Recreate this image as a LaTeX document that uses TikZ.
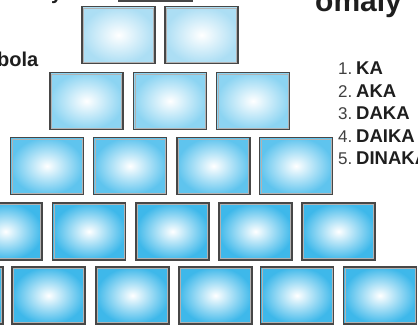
\documentclass[tikz,border=0pt]{standalone}
\usepackage{fontspec}
\setmainfont{Liberation Sans}
\definecolor{bluea}{RGB}{172,222,244}
\definecolor{blueb}{RGB}{140,212,242}
\definecolor{bluec}{RGB}{95,196,238}
\definecolor{blued}{RGB}{62,184,234}
\definecolor{ink}{RGB}{30,30,30}
\begin{document}
\begin{tikzpicture}[x=1pt,y=-1pt,
  brick/.style={rectangle, draw=black!72, line width=1.8pt, inner sep=0pt, outer sep=0pt,
    minimum width=73pt, minimum height=57pt,
    shading=radial, inner color=white, outer color=#1,
    path picture={\draw[black!30, line width=0.7pt]
      ([shift={(1.6pt,-1.6pt)}]path picture bounding box.north west) rectangle
      ([shift={(-1.6pt,1.6pt)}]path picture bounding box.south east);}},
  heading/.style={inner sep=0pt, anchor=base west, text=ink, font=\bfseries},
  num/.style={inner sep=0pt, anchor=base west, text=ink!85, font=\fontsize{17}{17}\selectfont},
  word/.style={inner sep=0pt, anchor=base west, text=ink, font=\bfseries\fontsize{18.5}{18.5}\selectfont}]
\useasboundingbox (0,0) rectangle (418,326);
\clip (0,0) rectangle (418,326);
\fill[white] (0,0) rectangle (418,326);
% row 0
\node[brick=bluea] (r0a) at (155.5,-27.5) {};
% row 1
\node[brick=bluea] (r1a) at (118.5,35) {};
\node[brick=bluea] (r1b) at (201.5,35) {};
% row 2
\node[brick=blueb] (r2a) at (86.5,101) {};
\node[brick=blueb] (r2b) at (170,101) {};
\node[brick=blueb] (r2c) at (253,101) {};
% row 3
\node[brick=bluec] (r3a) at (47,166) {};
\node[brick=bluec] (r3b) at (130,166) {};
\node[brick=bluec] (r3c) at (213.5,166) {};
\node[brick=bluec] (r3d) at (296,166) {};
% row 4
\node[brick=blued] (r4a) at (5.5,231.5) {};
\node[brick=blued] (r4b) at (89,231.5) {};
\node[brick=blued] (r4c) at (172.5,231.5) {};
\node[brick=blued] (r4d) at (255.5,231.5) {};
\node[brick=blued] (r4e) at (338.5,231.5) {};
% row 5
\node[brick=blued] (r5a) at (-33.5,295.5) {};
\node[brick=blued] (r5b) at (48.5,295.5) {};
\node[brick=blued] (r5c) at (132.5,295.5) {};
\node[brick=blued] (r5d) at (215.5,295.5) {};
\node[brick=blued] (r5e) at (297,295.5) {};
\node[brick=blued] (r5f) at (380,295.5) {};
% texts
\node[heading, font=\bfseries\fontsize{20}{20}\selectfont] (ty) at (51,0) {y};
\node[heading, font=\bfseries\fontsize{20}{20}\selectfont] (tb) at (-3,67) {bola};
\node[heading, font=\bfseries\fontsize{30}{30}\selectfont] (to) at (315,12) {omaly};
\node[num] (n1) at (338,75) {1.};
\node[num] (n2) at (338,97.5) {2.};
\node[num] (n3) at (338,120) {3.};
\node[num] (n4) at (338,142.5) {4.};
\node[num] (n5) at (338,165) {5.};
\node[word] (w1) at (356,75) {KA};
\node[word] (w2) at (356,97.5) {AKA};
\node[word] (w3) at (356,120) {DAKA};
\node[word] (w4) at (356,142.5) {DAIKA};
\node[word] (w5) at (356,165) {DINAKA};
\end{tikzpicture}
\end{document}
